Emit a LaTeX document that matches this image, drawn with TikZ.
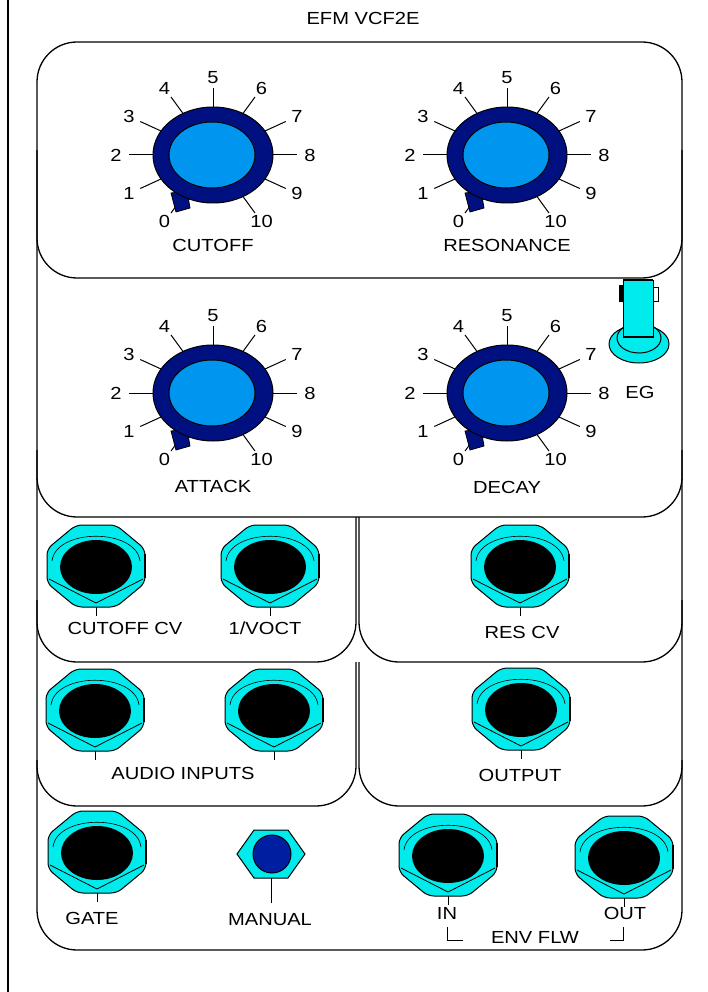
\documentclass[tikz,border=0pt]{standalone}
\usepackage{fontspec}
\setmainfont{Liberation Sans}[FakeStretch=1.15]

\definecolor{jackcyan}{RGB}{0,236,236}
\definecolor{knobdark}{RGB}{0,16,128}
\definecolor{knoblight}{RGB}{0,150,240}
\definecolor{buttonblue}{RGB}{0,30,160}

\tikzset{
  panel/.style={line width=1.3pt,rounded corners=40pt},
  lbl/.style={font=\fontsize{17.5}{20}\selectfont,inner sep=0pt},
  tick/.style={line width=1pt},
  nut/.style={fill=jackcyan,draw=black,line width=1pt},
}

\begin{document}
\begin{tikzpicture}[x=1pt,y=-1pt]
\useasboundingbox (0,0) rectangle (708,992);

% outer edge
\draw[line width=1.8pt] (8,0) -- (8,992);

% title node
\node[lbl] (title) at (363,18) {EFM VCF2E};

% panel sections
\draw[panel] (37,42) rectangle (682,278);
\draw[panel] (37,150) -- (37,517) -- (682,517) -- (682,150);
\draw[panel] (37,450) -- (37,662) -- (356,662) -- (356,517);
\draw[panel] (359,517) -- (359,662) -- (682,662) -- (682,450);
\draw[panel] (37,600) -- (37,806) -- (356,806) -- (356,662);
\draw[panel] (359,662) -- (359,806) -- (682,806) -- (682,600);
\draw[panel] (37,760) -- (37,950) -- (682,950) -- (682,760);

% knob nodes
\foreach \cx/\cy/\name/\txt/\ty in {213/155/cutoff/CUTOFF/245,507/155/resonance/RESONANCE/245,
                                    213/393/attack/ATTACK/486,507/393/decay/DECAY/487} {
  \begin{scope}[shift={(\cx,\cy)}]
    \foreach \v in {0,...,10} {
      \pgfmathsetmacro\a{240-30*\v}
      \draw[tick] ({55*cos(\a)},{-44*sin(\a)}) -- ({84*cos(\a)},{-67*sin(\a)});
      \node[lbl] (\name-\v) at ({97*cos(\a)},{-77*sin(\a)}) {\v};
    }
    % pointer
    \filldraw[fill=knobdark,draw=black,line width=0.8pt] (-42,38) -- (-37,57) -- (-23,53) -- (-26,36) -- cycle;
    \filldraw[fill=knobdark,draw=black,line width=1pt] (0,0) ellipse [x radius=60,y radius=48];
    \filldraw[fill=knoblight,draw=black,line width=1pt] (-1,0) ellipse [x radius=43,y radius=33];
  \end{scope}
  \node[lbl] (\name) at (\cx,\ty) {\txt};
}

% EG toggle node
\filldraw[nut] (639,344) ellipse [x radius=30,y radius=19];
\draw[line width=1pt] (639,338) ellipse [x radius=22,y radius=15];
\fill[black] (619,285) rectangle (624,302);
\draw[line width=0.8pt,fill=white] (653,287) rectangle (658,301);
\filldraw[nut] (623,280) rectangle (653,337);
\draw[line width=2.5pt] (623,280) -- (653,280);
\draw[line width=2pt] (623,337) -- (653,337);
\node[lbl] (eg) at (640,392) {EG};

% jack nodes
\foreach \jx/\jy in {96/566,270/566,520/566,95/710,274/710,521/709,97/852,448/855,624/857} {
  \begin{scope}[shift={(\jx,\jy)}]
    \draw[line width=1pt] (0,41) -- (0,50);
    \draw[nut,rounded corners=6pt] (49,17) -- (20,41) -- (-20,41) -- (-49,17) -- (-49,-17) -- (-20,-41) -- (20,-41) -- (49,-17) -- cycle;
    \draw[line width=0.8pt] (-47,13) -- (0,37) -- (47,13);
    \draw[line width=0.6pt] (-44,-5) .. controls (-40,-38) and (40,-38) .. (44,-5);
    \fill[black] (0,1) ellipse [x radius=36,y radius=27];
    \draw[line width=2.2pt] (49,-12) -- (49,12);
  \end{scope}
}

% manual button node
\draw[line width=1pt] (271,878) -- (271,903);
\filldraw[nut] (237,854) -- (254,830) -- (288,830) -- (305,854) -- (288,878) -- (254,878) -- cycle;
\filldraw[fill=buttonblue,draw=black,line width=1pt] (272,854) circle [radius=19];

% jack labels
\node[lbl] (cutoff cv) at (125,628) {CUTOFF CV};
\node[lbl] (voct) at (265,628) {1/VOCT};
\node[lbl] (res cv) at (522,632) {RES CV};
\node[lbl] (audio in) at (183,773) {AUDIO INPUTS};
\node[lbl] (output) at (520,775) {OUTPUT};
\node[lbl] (gate) at (92,918) {GATE};
\node[lbl] (manual) at (270,920) {MANUAL};
\node[lbl] (env in) at (447,913) {IN};
\node[lbl] (env out) at (625,913) {OUT};
\node[lbl] (env flw) at (535,937) {ENV FLW};

% env follower bracket
\draw[tick] (447,927) |- (463,940);
\draw[tick] (610,940) -| (623,927);

\end{tikzpicture}
\end{document}
